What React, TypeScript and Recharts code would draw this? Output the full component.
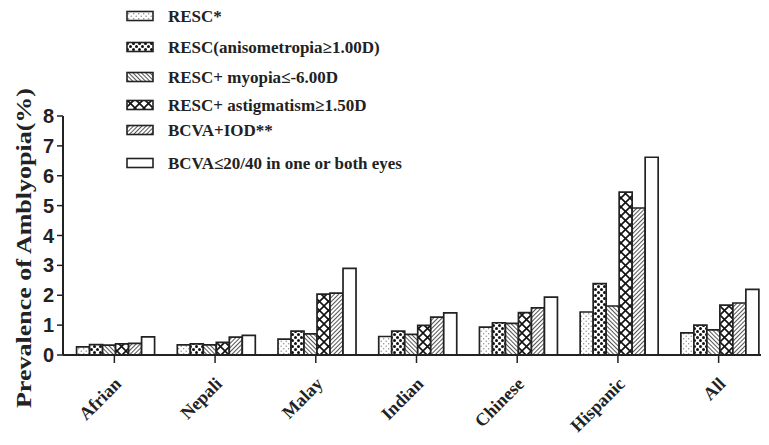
import React from 'react';
import { BarChart, Bar, XAxis, YAxis } from 'recharts';

const categories = ['Afrian', 'Nepali', 'Malay', 'Indian', 'Chinese', 'Hispanic', 'All'];
const resc = [0.27, 0.34, 0.53, 0.62, 0.93, 1.44, 0.74];
const resc_aniso = [0.35, 0.37, 0.8, 0.8, 1.08, 2.39, 1.0];
const resc_myopia = [0.33, 0.34, 0.71, 0.69, 1.06, 1.64, 0.84];
const resc_astig = [0.37, 0.42, 2.04, 0.99, 1.42, 5.45, 1.67];
const bcva_iod = [0.39, 0.6, 2.07, 1.27, 1.58, 4.92, 1.74];
const bcva_2040 = [0.61, 0.66, 2.9, 1.41, 1.94, 6.62, 2.2];
const yTicks = [0, 1, 2, 3, 4, 5, 6, 7, 8];

const seriesNames = [
    'RESC*',
    'RESC(anisometropia\u22651.00D)',
    'RESC+ myopia\u2264-6.00D',
    'RESC+ astigmatism\u22651.50D',
    'BCVA+IOD**',
    'BCVA\u226420/40 in one or both eyes',
];
const seriesKeys = ['resc', 'aniso', 'myopia', 'astig', 'iod', 'bcva'];
const seriesFills = ['url(#p-dots)', 'url(#p-check)', 'url(#p-back)', 'url(#p-cross)', 'url(#p-fwd)', '#ffffff'];

const data = categories.map((name, i) => ({
    name,
    resc: resc[i],
    aniso: resc_aniso[i],
    myopia: resc_myopia[i],
    astig: resc_astig[i],
    iod: bcva_iod[i],
    bcva: bcva_2040[i],
}));

const INK = '#222';
const SERIF = '"Liberation Serif", "Times New Roman", serif';
const SANS = '"Liberation Sans", Arial, sans-serif';

// legend row centres, as laid out in the original figure
const legendRows = [16, 47, 77, 105, 130, 163];

const Patterns = () => (
    <defs>
        <pattern id="p-dots" patternUnits="userSpaceOnUse" width="5" height="5">
            <rect width="5" height="5" fill="#fff" />
            <circle cx="1.2" cy="1.2" r="0.7" fill="#888" />
            <circle cx="3.7" cy="3.7" r="0.7" fill="#888" />
        </pattern>
        <pattern id="p-check" patternUnits="userSpaceOnUse" width="6" height="6">
            <rect width="6" height="6" fill="#fff" />
            <circle cx="1.5" cy="1.5" r="1.5" fill="#111" />
            <circle cx="4.5" cy="4.5" r="1.5" fill="#111" />
        </pattern>
        <pattern id="p-back" patternUnits="userSpaceOnUse" width="3" height="3" patternTransform="rotate(-45)">
            <rect width="3" height="3" fill="#fff" />
            <line x1="0.5" y1="0" x2="0.5" y2="3" stroke="#555" strokeWidth="1" />
        </pattern>
        <pattern id="p-fwd" patternUnits="userSpaceOnUse" width="3" height="3" patternTransform="rotate(45)">
            <rect width="3" height="3" fill="#fff" />
            <line x1="0.5" y1="0" x2="0.5" y2="3" stroke="#555" strokeWidth="1" />
        </pattern>
        <pattern id="p-cross" patternUnits="userSpaceOnUse" width="9" height="9">
            <rect width="9" height="9" fill="#fff" />
            <path d="M0,0 L9,9 M9,0 L0,9" stroke="#111" strokeWidth="1.6" />
        </pattern>
    </defs>
);

const LegendBox = () => (
    <svg width={769} height={180} style={{ position: 'absolute', left: 0, top: 0, pointerEvents: 'none' }}>
        <Patterns />
        {seriesNames.map((label, i) => (
            <g key={label}>
                <rect x={127} y={legendRows[i] - 4.5} width={26} height={9} fill={seriesFills[i]} stroke={INK} strokeWidth={1.6} />
                <text x={168} y={legendRows[i] + 5.5} fontFamily={SERIF} fontWeight="bold" fontSize={17} fill={INK}>
                    {label}
                </text>
            </g>
        ))}
    </svg>
);

const CategoryTick = (props: any) => {
    const { x, y, payload } = props;
    const ax = x + 8;
    const ay = y + 20;
    return (
        <text x={ax} y={ay} textAnchor="end" transform={`rotate(-45, ${ax}, ${ay})`}
            fontFamily={SERIF} fontWeight="bold" fontSize={18} fill={INK}>
            {payload.value}
        </text>
    );
};

const YLabel = () => (
    <text x={31} y={248} textAnchor="middle" transform="rotate(-90, 31, 248)"
        fontFamily={SERIF} fontWeight="bold" fontSize={22} fill={INK}
        textLength={320} lengthAdjust="spacingAndGlyphs">
        Prevalence of Amblyopia(%)
    </text>
);

export default function App() {
    return (
        <div style={{ position: 'relative', width: 769, height: 445, margin: -8, overflow: 'hidden', background: '#fff' }}>
            <BarChart width={769} height={445} data={data}
                margin={{ top: 116, right: 0, bottom: 0, left: 0 }}
                barCategoryGap="12.5%" barGap={0}>
                <XAxis dataKey="name" height={90} padding={{ left: 1, right: 0 }}
                    axisLine={{ stroke: INK, strokeWidth: 2 }}
                    tickLine={{ stroke: INK, strokeWidth: 1.5 }} tickSize={8}
                    tick={<CategoryTick />} interval={0} />
                <YAxis width={63} domain={[0, 8]} ticks={yTicks} interval={0}
                    axisLine={{ stroke: INK, strokeWidth: 2 }}
                    tickLine={{ stroke: INK, strokeWidth: 1.5 }} tickSize={6} tickMargin={3}
                    tick={{ fill: INK, fontSize: 20, fontWeight: 'bold', fontFamily: SANS }}
                    label={{ content: () => <YLabel /> }} />
                {seriesKeys.map((k, i) => (
                    <Bar key={k} dataKey={k} name={seriesNames[i]} fill={seriesFills[i]}
                        stroke={INK} strokeWidth={1.7} isAnimationActive={false} />
                ))}
            </BarChart>
            <LegendBox />
        </div>
    );
}
